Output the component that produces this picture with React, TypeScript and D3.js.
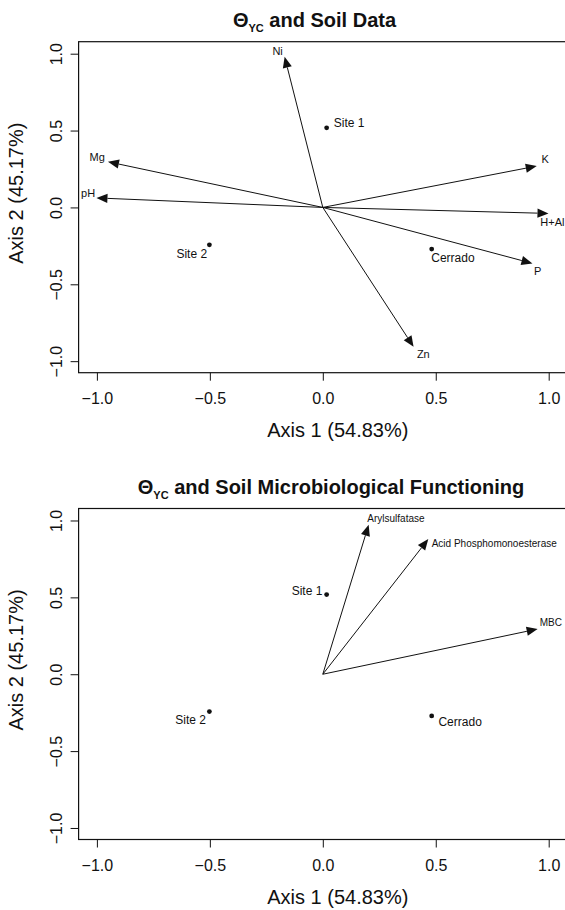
import React, { useEffect, useRef } from "react";
import * as d3 from "d3";

// tick values shared by both panels
const axisTicks = [-1, -0.5, 0, 0.5, 1];

// sample sites (same ordination scores in both panels)
const siteNames = ["Site 1", "Site 2", "Cerrado"];
const siteX = [0.017, -0.502, 0.482];
const siteY = [0.518, -0.243, -0.271];

// where the site labels sit, in axis units
const soilSiteLabelX = [0.049, -0.512, 0.48];
const soilSiteLabelY = [0.553, -0.299, -0.327];
const soilSiteAnchor = ["start", "end", "start"];
const microSiteLabelX = [-0.002, -0.517, 0.512];
const microSiteLabelY = [0.543, -0.294, -0.307];
const microSiteAnchor = ["end", "end", "start"];

// soil chemistry vectors
const soilVars = ["Ni", "Mg", "pH", "K", "H+Al", "P", "Zn"];
const soilX = [-0.169, -0.951, -1.002, 0.947, 0.999, 0.928, 0.402];
const soilY = [0.98, 0.297, 0.062, 0.269, -0.039, -0.364, -0.907];
const soilLabelX = [-0.2, -0.999, -1.039, 0.984, 0.963, 0.951, 0.445];
const soilLabelY = [1.017, 0.325, 0.091, 0.312, -0.098, -0.412, -0.954];
const soilAnchor = ["middle", "middle", "middle", "middle", "start", "middle", "middle"];

// microbiological vectors
const microVars = ["Arylsulfatase", "Acid Phosphomonoesterase", "MBC"];
const microX = [0.203, 0.467, 0.951];
const microY = [0.972, 0.879, 0.294];
const microLabelX = [0.197, 0.482, 0.96];
const microLabelY = [1.016, 0.853, 0.337];

const xLabel = "Axis 1 (54.83%)";
const yLabel = "Axis 2 (45.17%)";

const FONT = "'Liberation Sans', Arial, Helvetica, sans-serif";
const INK = "#111";

function drawPanel(svg, opts) {
  const { top, titleRest, titleX, vecs, vx, vy, vlx, vly, vAnchor, vFont, slx, sly, sAnchor } = opts;
  const left = 78.6;
  const plotW = 488.4;
  const plotH = 331;

  const x = d3.scaleLinear().domain([-1.081, 1.081]).range([left, left + plotW]);
  const y = d3.scaleLinear().domain([-1.075, 1.078]).range([top + plotH, top]);

  const g = svg.append("g").attr("font-family", FONT).attr("fill", INK);

  // title with subscript
  const t = g.append("text")
    .attr("x", titleX)
    .attr("y", top - 15)
    .attr("text-anchor", "middle")
    .attr("font-size", 20)
    .attr("font-weight", "bold");
  t.append("tspan").text("\u0398");
  t.append("tspan").attr("font-size", 11).attr("dy", 5).text("YC");
  t.append("tspan").attr("dy", -5).text(" " + titleRest);

  // box
  g.append("rect")
    .attr("x", left).attr("y", top)
    .attr("width", plotW).attr("height", plotH)
    .attr("fill", "none").attr("stroke", INK).attr("stroke-width", 1.2);

  // x axis
  const xAxis = g.append("g").attr("transform", `translate(0,${top + plotH})`)
    .call(d3.axisBottom(x).tickValues(axisTicks).tickSize(8).tickFormat(d3.format(".1f")));
  xAxis.select(".domain").remove();
  xAxis.selectAll("line").attr("stroke", INK);
  xAxis.selectAll("text")
    .attr("font-family", FONT).attr("font-size", 16).attr("fill", INK)
    .attr("dy", null).attr("y", 31);

  // y axis, labels parallel to the axis
  const yAxis = g.append("g").attr("transform", `translate(${left},0)`)
    .call(d3.axisLeft(y).tickValues(axisTicks).tickSize(8).tickFormat(d3.format(".1f")));
  yAxis.select(".domain").remove();
  yAxis.selectAll("line").attr("stroke", INK);
  yAxis.selectAll("text")
    .attr("font-family", FONT).attr("font-size", 16).attr("fill", INK)
    .attr("x", null).attr("dy", null)
    .attr("text-anchor", "middle")
    .attr("transform", "translate(-17,0) rotate(-90)");

  // axis titles
  g.append("text")
    .attr("x", left + plotW / 2 + 15)
    .attr("y", top + plotH + 64)
    .attr("text-anchor", "middle")
    .attr("font-size", 20)
    .text(xLabel);
  g.append("text")
    .attr("transform", `translate(23.3,${top + plotH / 2 - 14}) rotate(-90)`)
    .attr("text-anchor", "middle")
    .attr("font-size", 20)
    .text(yLabel);

  // vectors
  const x0 = x(0), y0 = y(0);
  vecs.forEach((name, i) => {
    const tx = x(vx[i]), ty = y(vy[i]);
    const dx = tx - x0, dy = ty - y0;
    const len = Math.sqrt(dx * dx + dy * dy);
    const ux = dx / len, uy = dy / len;
    const headL = 11, headW = 4.6;
    const bx = tx - ux * headL, by = ty - uy * headL;
    g.append("line")
      .attr("x1", x0).attr("y1", y0).attr("x2", bx).attr("y2", by)
      .attr("stroke", INK).attr("stroke-width", 1);
    g.append("path")
      .attr("d", `M${tx},${ty}L${bx - uy * headW},${by + ux * headW}L${bx + uy * headW},${by - ux * headW}Z`)
      .attr("fill", INK);
    g.append("text")
      .attr("x", x(vlx[i])).attr("y", y(vly[i]))
      .attr("dy", "0.35em")
      .attr("text-anchor", vAnchor[i])
      .attr("font-size", vFont)
      .text(name);
  });

  // sites
  siteNames.forEach((name, i) => {
    g.append("circle")
      .attr("cx", x(siteX[i])).attr("cy", y(siteY[i])).attr("r", 2.4)
      .attr("fill", INK);
    g.append("text")
      .attr("x", x(slx[i])).attr("y", y(sly[i]))
      .attr("dy", "0.35em")
      .attr("text-anchor", sAnchor[i])
      .attr("font-size", 12)
      .text(name);
  });
}

export default function App() {
  const ref = useRef(null);

  useEffect(() => {
    const svg = d3.select(ref.current);
    svg.selectAll("*").remove(); //clear previous render

    svg.append("rect").attr("width", 565).attr("height", 910).attr("fill", "#fff");

    drawPanel(svg, {
      top: 41.7,
      titleRest: "and Soil Data",
      titleX: 314.5,
      vecs: soilVars, vx: soilX, vy: soilY,
      vlx: soilLabelX, vly: soilLabelY, vAnchor: soilAnchor, vFont: 11,
      slx: soilSiteLabelX, sly: soilSiteLabelY, sAnchor: soilSiteAnchor,
    });

    drawPanel(svg, {
      top: 508.5,
      titleRest: "and Soil Microbiological Functioning",
      titleX: 331,
      vecs: microVars, vx: microX, vy: microY,
      vlx: microLabelX, vly: microLabelY, vAnchor: microVars.map(() => "start"), vFont: 10,
      slx: microSiteLabelX, sly: microSiteLabelY, sAnchor: microSiteAnchor,
    });
  }, []);

  return (
    <svg
      ref={ref}
      width={565}
      height={910}
      style={{ position: "absolute", left: 0, top: 0 }}
    />
  );
}
